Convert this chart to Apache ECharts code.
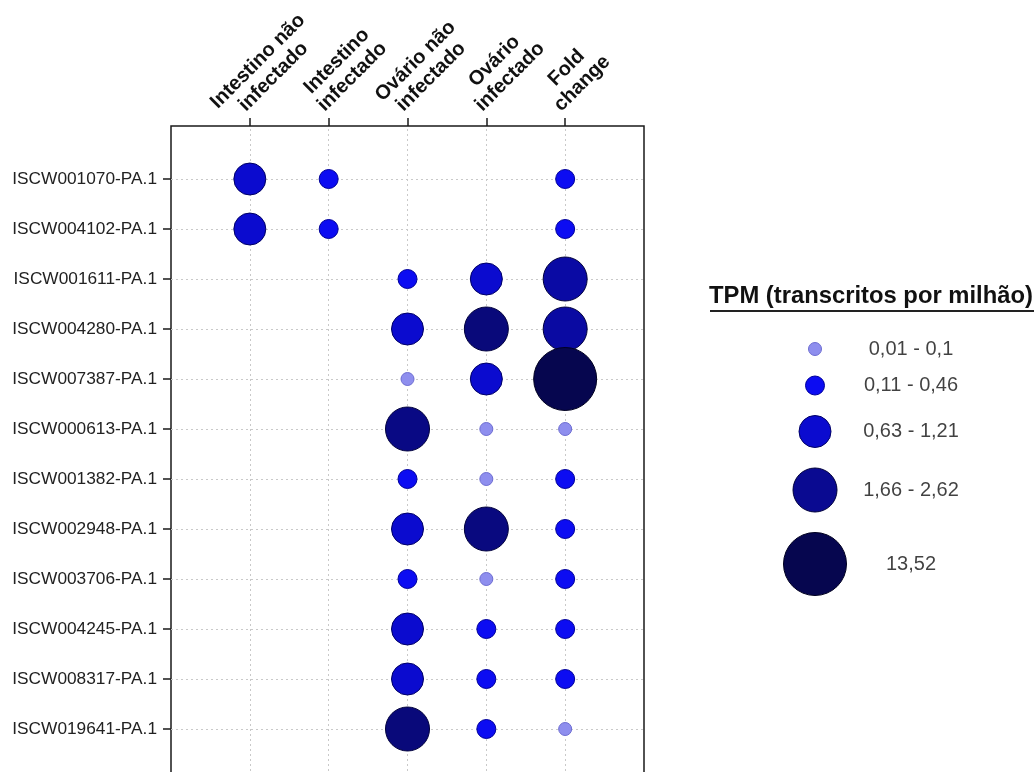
<!DOCTYPE html>
<html><head><meta charset="utf-8">
<script src="https://cdn.jsdelivr.net/npm/echarts@6/dist/echarts.min.js"></script>
<style>html,body{margin:0;padding:0;background:#fff}#c{width:1036px;height:772px}</style>
</head><body><div id="c"></div>
<script>
// ---- data ----
const columns = ['Intestino não\ninfectado', 'Intestino\ninfectado', 'Ovário não\ninfectado', 'Ovário\ninfectado', 'Fold\nchange'];
const genes = ['ISCW001070-PA.1','ISCW004102-PA.1','ISCW001611-PA.1','ISCW004280-PA.1','ISCW007387-PA.1','ISCW000613-PA.1','ISCW001382-PA.1','ISCW002948-PA.1','ISCW003706-PA.1','ISCW004245-PA.1','ISCW008317-PA.1','ISCW019641-PA.1'];
const intestinoNaoInfectado = [0.9, 0.9, null, null, null, null, null, null, null, null, null, null];
const intestinoInfectado    = [0.3, 0.3, null, null, null, null, null, null, null, null, null, null];
const ovarioNaoInfectado    = [null, null, 0.3, 0.9, 0.05, 2.4, 0.3, 0.9, 0.3, 0.9, 0.9, 2.62];
const ovarioInfectado       = [null, null, 0.9, 2.62, 0.9, 0.05, 0.05, 2.5, 0.1, 0.3, 0.3, 0.3];
const foldChange            = [0.3, 0.3, 1.66, 1.7, 13.52, 0.05, 0.3, 0.3, 0.3, 0.3, 0.3, 0.05];
const legendTitle = 'TPM (transcritos por milhão)';
const legendLabels = ['0,01 - 0,1', '0,11 - 0,46', '0,63 - 1,21', '1,66 - 2,62', '13,52'];
const binLower = [0.01, 0.11, 0.63, 1.66, 13.52];
const binUpper = [0.1, 0.46, 1.21, 2.62, 13.52];

// ---- styles ----
const FONT = '"Liberation Sans", Arial, Helvetica, sans-serif';
const XFS = 20;
const binSize = [13, 19, 32, 44, 63];
const binFill = ['#8e8eee', '#0c0cf2', '#0b0bcf', '#0a0aa4', '#06064f'];
const binFillHi = [null, null, null, '#09097a', null];
const binBorder = ['#6d6dd2', '#00009a', '#000066', '#00003c', '#000020'];

function binOf(v){ let b = 0; for (let i = 0; i < binLower.length; i++) if (v >= binLower[i] - 1e-9) b = i; return b; }
function hex(c){ return [1,3,5].map(i => parseInt(c.substr(i,2),16)); }
function mix(a,b,t){ const A=hex(a),B=hex(b); return 'rgb(' + A.map((x,i)=>Math.round(x+(B[i]-x)*t)).join(',') + ')'; }
function fillOf(v){
  const b = binOf(v);
  if (binFillHi[b]) {
    const t = Math.max(0, Math.min(1, (v - binLower[b]) / (binUpper[b] - binLower[b])));
    return mix(binFill[b], binFillHi[b], t);
  }
  return binFill[b];
}

const colData = [intestinoNaoInfectado, intestinoInfectado, ovarioNaoInfectado, ovarioInfectado, foldChange];
const xCats = [''].concat(columns, ['']);
const yCats = [''].concat(genes, ['']);

const points = [];
genes.forEach((g, r) => {
  colData.forEach((arr, c) => {
    const v = arr[r];
    if (v == null) return;
    const b = binOf(v);
    points.push({
      value: [columns[c], g, v],
      symbolSize: binSize[b],
      itemStyle: { color: fillOf(v), borderColor: binBorder[b], borderWidth: 1, opacity: 1 }
    });
  });
});

// legend layout (pixel rows derived from symbol sizes)
const legendGap = 20.5;
const legendY = [];
binSize.forEach((s, i) => { legendY.push(i === 0 ? 19 : legendY[i-1] + binSize[i-1]/2 + s/2 + legendGap); });
const legendMid = [(binLower[0]+binUpper[0])/2, 0.3, 0.9, 2.1, 13.52];
const legendCircles = legendY.map((y, i) => ({
  value: [1, y], symbolSize: binSize[i],
  itemStyle: { color: fillOf(legendMid[i]), borderColor: binBorder[i], borderWidth: 1, opacity: 1 }
}));
const legendTexts = legendY.map((y, i) => ({ value: [3, y], name: legendLabels[i] }));

// column header lines: centred on each other, last line starting at the tick
const mctx = document.createElement('canvas').getContext('2d');
mctx.font = 'bold ' + XFS + 'px "Liberation Sans", Arial, sans-serif';
const rich = {};
columns.forEach((c, i) => {
  const lines = c.split('\n');
  const ws = lines.map(s => mctx.measureText(s).width);
  const last = ws[ws.length - 1];
  lines.forEach((s, j) => {
    rich['c' + i + 'l' + j] = { align: 'left', fontFamily: FONT, fontSize: XFS, fontWeight: 'bold', color: '#111',
      lineHeight: 22, padding: [0, 0, 0, (last - ws[j]) / 2] };
  });
});
function headerFmt(v){
  const i = columns.indexOf(v);
  if (i < 0) return '';
  return v.split('\n').map((s, j) => '{c' + i + 'l' + j + '|' + s + '}').join('\n');
}

const notBlank = (idx, val) => val !== '';
const chart = echarts.init(document.getElementById('c'), null, { renderer: 'canvas' });
chart.setOption({
  backgroundColor: '#fff',
  animation: false,
  textStyle: { fontFamily: FONT },
  title: { text: legendTitle, left: 709, top: 284, padding: 0,
    textStyle: { fontFamily: FONT, fontSize: 23.8, fontWeight: 'bold', color: '#111' } },
  graphic: [{ type: 'line', shape: { x1: 710, y1: 311, x2: 1034, y2: 311 }, style: { stroke: '#222', lineWidth: 2 } }],
  grid: [
    { left: 171, top: 126, width: 473, height: 700, show: true, borderColor: '#1a1a1a', borderWidth: 1.5, backgroundColor: 'transparent', outerBoundsMode: 'none' },
    { left: 171, top: 129, width: 473, height: 650, outerBoundsMode: 'none' },
    { left: 767, top: 330, width: 192, height: 260, outerBoundsMode: 'none' }
  ],
  xAxis: [
    { gridIndex: 0, type: 'value', show: false },
    { gridIndex: 1, type: 'category', data: xCats, boundaryGap: false, position: 'top', offset: 3,
      axisLine: { show: false },
      axisTick: { show: true, inside: false, length: 8, interval: notBlank, lineStyle: { color: '#1a1a1a', width: 1.5 } },
      splitLine: { show: true, interval: notBlank, lineStyle: { color: '#c9c9c9', type: [2, 3], width: 1 } },
      axisLabel: { show: true, interval: notBlank, rotate: -45, margin: 10, align: 'left', verticalAlign: 'bottom',
        formatter: headerFmt, rich: rich }
    },
    { gridIndex: 2, type: 'value', min: 0, max: 4, show: false }
  ],
  yAxis: [
    { gridIndex: 0, type: 'value', show: false },
    { gridIndex: 1, type: 'category', data: yCats, boundaryGap: false, inverse: true,
      axisLine: { show: false },
      axisTick: { show: true, length: 8, interval: notBlank, lineStyle: { color: '#1a1a1a', width: 1.5 } },
      splitLine: { show: true, interval: notBlank, lineStyle: { color: '#c9c9c9', type: [2, 3], width: 1 } },
      axisLabel: { interval: notBlank, margin: 14, fontFamily: FONT, fontSize: 17.3, color: '#222' }
    },
    { gridIndex: 2, type: 'value', min: 0, max: 260, inverse: true, show: false }
  ],
  series: [
    { type: 'scatter', xAxisIndex: 1, yAxisIndex: 1, data: points, z: 5 },
    { type: 'scatter', xAxisIndex: 2, yAxisIndex: 2, data: legendCircles, z: 5 },
    { type: 'scatter', xAxisIndex: 2, yAxisIndex: 2, data: legendTexts, symbolSize: 0,
      label: { show: true, position: 'inside', formatter: p => p.name, fontFamily: FONT, fontSize: 20, color: '#111' } }
  ]
});
</script></body></html>
